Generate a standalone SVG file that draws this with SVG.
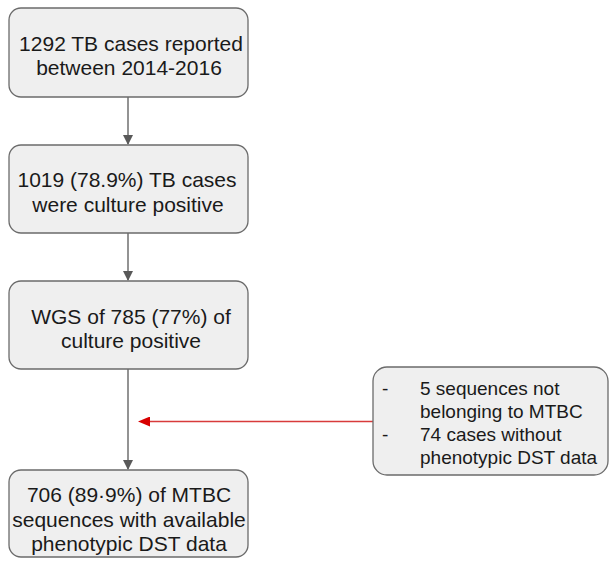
<svg xmlns="http://www.w3.org/2000/svg" width="609" height="561" viewBox="0 0 609 561">
<defs>
<style>
.box{fill:#efefef;stroke:#6b6b6b;stroke-width:1.3}
.t{font-family:"Liberation Sans",Arial,sans-serif;font-size:21px;fill:#1a1a1a;text-anchor:middle}
.r{font-family:"Liberation Sans",Arial,sans-serif;font-size:19px;fill:#1a1a1a}
.c{stroke:#595959;stroke-width:1.3;fill:none}
.red{stroke:#d83b3b;stroke-width:1.5;fill:none}
</style>
<marker id="ag" markerWidth="10" markerHeight="10" refX="9" refY="5" orient="auto" markerUnits="userSpaceOnUse">
<path d="M0,0 L10,5 L0,10 Z" fill="#595959"/>
</marker>
<marker id="ar" markerWidth="12" markerHeight="10" refX="1" refY="5" orient="auto-start-reverse" markerUnits="userSpaceOnUse">
<path d="M0,0 L12,5 L0,10 Z" fill="#d80000"/>
</marker>
</defs>
<g id="connectors">
<line class="c" x1="128" y1="97" x2="128" y2="144" marker-end="url(#ag)"/>
<line class="c" x1="128" y1="233" x2="128" y2="280" marker-end="url(#ag)"/>
<line class="c" x1="128" y1="369" x2="128" y2="469" marker-end="url(#ag)"/>
<line class="red" x1="373" y1="421.5" x2="149" y2="421.5" marker-end="url(#ar)"/>
</g>
<g id="n1">
<rect class="box" x="9" y="8" width="239" height="89" rx="12"/>
<text class="t" x="131" y="51">1292 TB cases reported</text>
<text class="t" x="129" y="75">between 2014-2016</text>
</g>
<g id="n2">
<rect class="box" x="9" y="145" width="239" height="88" rx="12"/>
<text class="t" x="127" y="187">1019 (78.9%) TB cases</text>
<text class="t" x="128" y="212">were culture positive</text>
</g>
<g id="n3">
<rect class="box" x="9" y="281" width="239" height="88" rx="12"/>
<text class="t" x="131" y="324">WGS of 785 (77%) of</text>
<text class="t" x="131" y="348">culture positive</text>
</g>
<g id="n4">
<rect class="box" x="9" y="470" width="239" height="87" rx="12"/>
<text class="t" x="129" y="502">706 (89·9%) of MTBC</text>
<text class="t" x="129" y="527">sequences with available</text>
<text class="t" x="129" y="551">phenotypic DST data</text>
</g>
<g id="n5">
<rect class="box" x="373" y="367" width="235" height="108" rx="14"/>
<text class="r" x="382" y="395">-</text>
<text class="r" x="420" y="395">5 sequences not</text>
<text class="r" x="420" y="418">belonging to MTBC</text>
<text class="r" x="382" y="441">-</text>
<text class="r" x="420" y="441">74 cases without</text>
<text class="r" x="420" y="464">phenotypic DST data</text>
</g>
</svg>
